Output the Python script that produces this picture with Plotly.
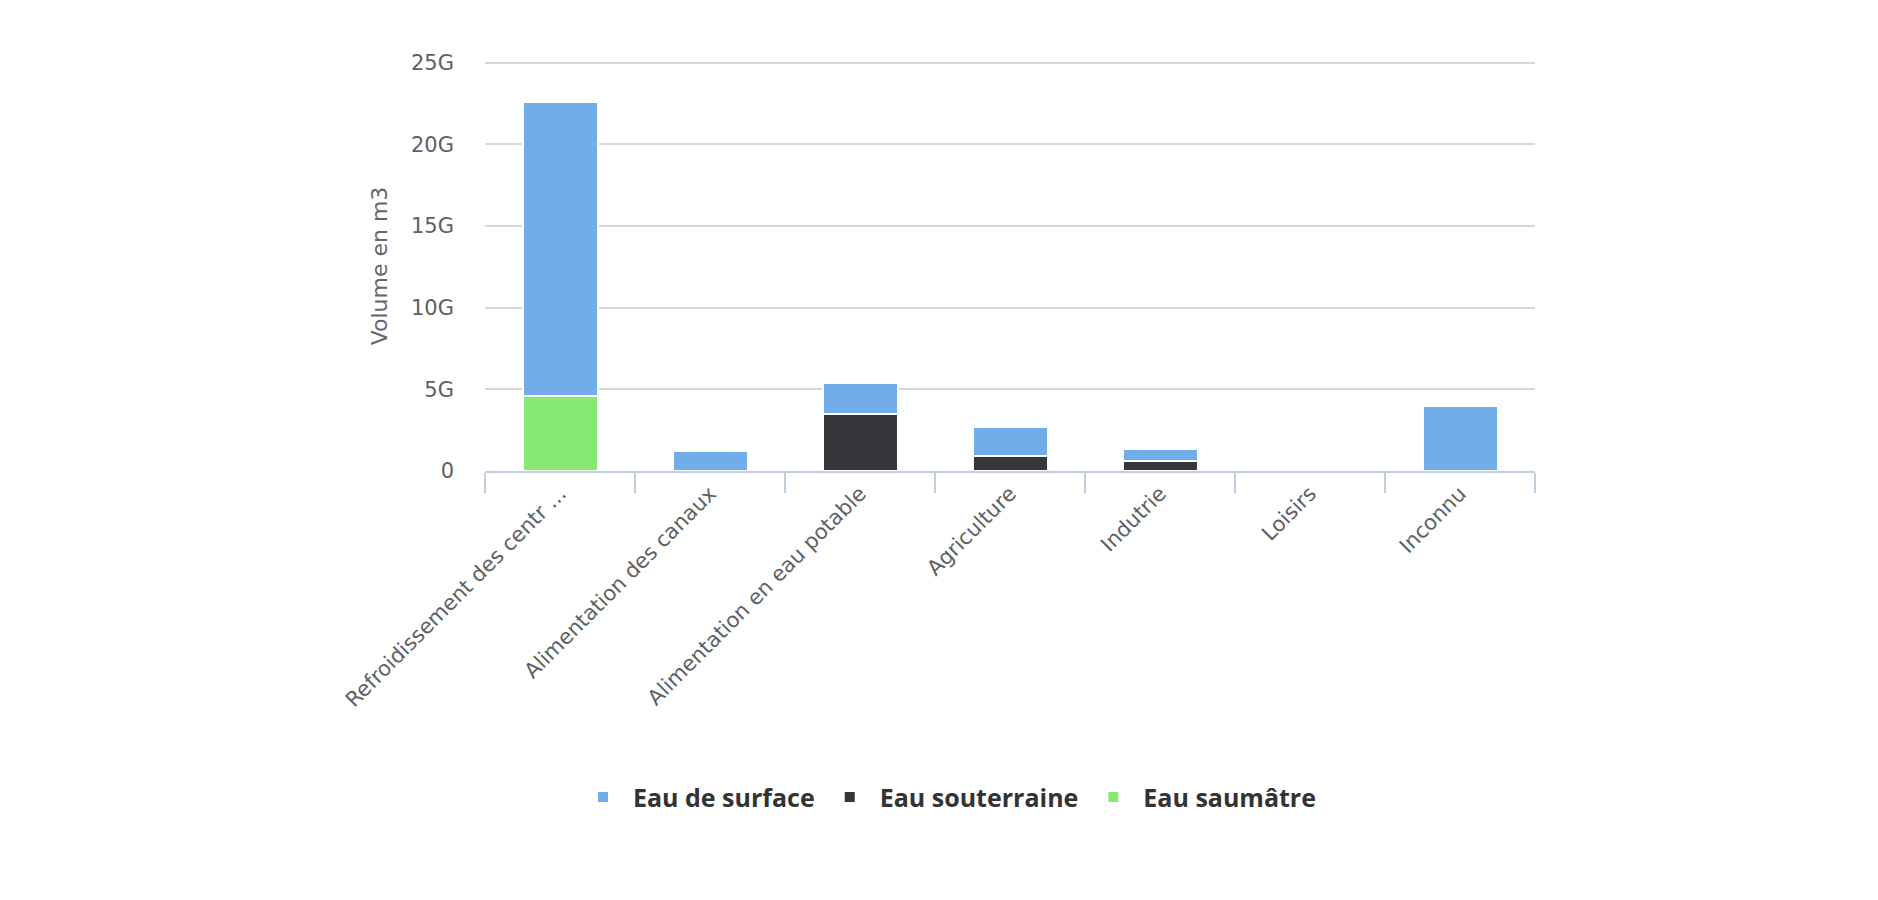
import plotly.graph_objects as go

categories = ["Refroidissement des centr ...", "Alimentation des canaux",
              "Alimentation en eau potable", "Agriculture", "Indutrie",
              "Loisirs", "Inconnu"]

# volumes in m3 (billions)
surface = [18.0e9, 1.22e9, 1.86e9, 1.80e9, 0.71e9, 0, 3.97e9]
souterraine = [0, 0, 3.50e9, 0.89e9, 0.63e9, 0, 0]
saumatre = [4.60e9, 0, 0, 0, 0, 0, 0]

font = "DejaVu Sans, sans-serif"

fig = go.Figure()

# bottom of the stack first, legend reversed to read surface / souterraine / saumatre
fig.add_trace(go.Bar(x=categories, y=saumatre, name="Eau saumâtre",
                     marker=dict(color="#87e873", line=dict(color="white", width=2))))
fig.add_trace(go.Bar(x=categories, y=souterraine, name="Eau souterraine",
                     marker=dict(color="#36363b", line=dict(color="white", width=2))))
fig.add_trace(go.Bar(x=categories, y=surface, name="Eau de surface",
                     marker=dict(color="#70ade9", line=dict(color="white", width=2))))

fig.update_layout(
    width=1878, height=900,
    barmode="stack",
    bargap=0.5,
    paper_bgcolor="white",
    plot_bgcolor="white",
    margin=dict(l=477, r=351, t=53, b=437, autoexpand=False),
    font=dict(family=font, size=21, color="#666666"),
    hovermode=False,
    legend=dict(
        orientation="h", traceorder="reversed",
        x=0.5, xanchor="center", xref="container",
        y=0.123, yanchor="middle", yref="container",
        font=dict(family="Open Sans, sans-serif", size=25, color="#333333", weight="bold"),
        itemwidth=50,
    ),
    xaxis=dict(
        tickangle=-45,
        tickson="boundaries",
        ticks="outside", ticklen=20, tickwidth=2, tickcolor="#c0d0e0",
        showline=True, linecolor="#c0d0e0", linewidth=2,
        showgrid=False,
        tickfont=dict(size=21, color="#606060"),
    ),
    yaxis=dict(
        range=[0, 25.1e9],
        tickvals=[0, 5e9, 10e9, 15e9, 20e9, 25e9],
        tickformat="~s",
        showgrid=True, gridcolor="#d8d8d8", gridwidth=2,
        zeroline=False,
        showline=False,
        ticklabelstandoff=30,
        tickfont=dict(size=21, color="#606060"),
        title=dict(text="Volume en m3", standoff=17,
                   font=dict(size=22, color="#666666")),
    ),
)

fig.write_html("out.html")
